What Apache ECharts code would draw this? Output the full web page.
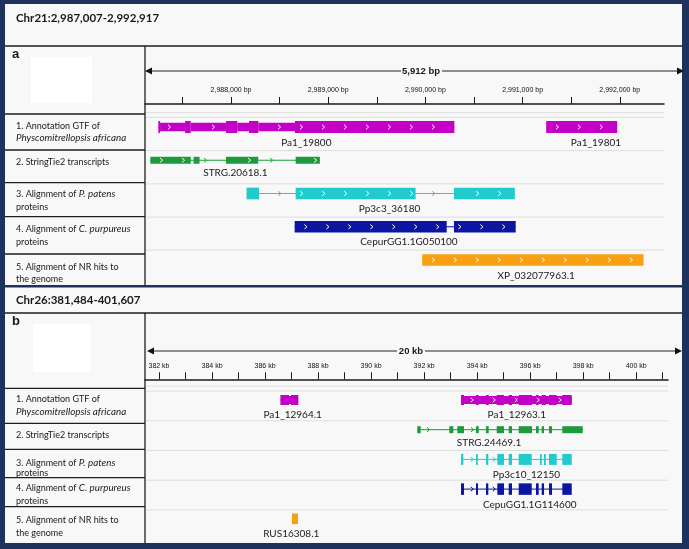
<!DOCTYPE html>
<html><head><meta charset="utf-8">
<script src="https://cdn.jsdelivr.net/npm/echarts@6/dist/echarts.min.js"></script>
<style>html,body{margin:0;padding:0;background:#1d335e}#c{width:689px;height:549px}</style>
</head><body><div id="c"></div>
<script>
// ---------------- DATA ----------------
const titleA = 'Chr21:2,987,007-2,992,917';
const titleB = 'Chr26:381,484-401,607';
const spanLabelA = '5,912 bp';
const spanLabelB = '20 kb';
const trackLabels = [
  ['1. Annotation GTF of', '{i|Physcomitrellopsis africana}'],
  ['2. StringTie2 transcripts'],
  ['3. Alignment of {i|P. patens}', 'proteins'],
  ['4. Alignment of {i|C. purpureus}', 'proteins'],
  ['5. Alignment of NR hits to', 'the genome']
];
const trackColors = ['#c400c8', '#1c9a3c', '#22cbcb', '#0c14a2', '#f7a011'];

// Panel a (Chr21)
const viewA = [2987115, 2992455];
const ticksA = [2987500, 2988000, 2988500, 2989000, 2989500, 2990000, 2990500, 2991000, 2991500, 2992000];
const tickLabelsA = [2988000, 2989000, 2990000, 2991000, 2992000];
const geneNamesA = ['Pa1_19800', 'Pa1_19801', 'STRG.20618.1', 'Pp3c3_36180', 'CepurGG1.1G050100', 'XP_032077963.1'];
const geneTracksA = [0, 0, 1, 2, 3, 4];
const geneLabelAtA = [2988775, 2991755, 2988045, 2989631, 2989831, 2991140];
const geneExonsA = [
  [[2987252,2987270,1],[2987270,2987527,0],[2987527,2987585,1],[2987585,2987949,0],[2987949,2988065,1],[2988065,2988185,0],[2988185,2988281,1],[2988281,2988658,0],[2988658,2990298,1]],
  [[2991243,2991973,1]],
  [[2987170,2987586,1],[2987615,2987676,1],[2987948,2988280,1],[2988665,2988914,1]],
  [[2988160,2988288,1],[2988665,2989899,1],[2990294,2990920,1]],
  [[2988655,2990219,1],[2990294,2990929,1]],
  [[2989967,2992244,1]]
];

// Panel b (Chr26)
const viewB = [381472, 401199];
const ticksB = [382000,383000,384000,385000,386000,387000,388000,389000,390000,391000,392000,393000,394000,395000,396000,397000,398000,399000,400000,401000];
const tickLabelsB = [382000,384000,386000,388000,390000,392000,394000,396000,398000,400000];
const geneNamesB = ['Pa1_12964.1', 'Pa1_12963.1', 'STRG.24469.1', 'Pp3c10_12150', 'CepuGG1.1G114600', 'RUS16308.1'];
const geneTracksB = [0, 0, 1, 2, 3, 4];
const geneLabelAtB = [387043, 395496, 394448, 395858, 395983, 386987];
const geneExonsB = [
  [[386579,386904,1],[386904,386979,0],[386979,387255,1]],
  [[393391,397567,0],[393391,393505,1],[393957,394059,1],[394334,394436,1],[394738,395013,1],[395191,395315,1],[395568,396070,1],[396220,396322,1],[396435,396586,1],[396711,397001,1],[397212,397567,1]],
  [[391743,391871,1],[392950,393101,1],[393252,393505,1],[393957,394059,1],[394334,394436,1],[394738,395013,1],[395191,395315,1],[395568,396070,1],[396220,396322,1],[396435,396522,1],[396711,396824,1],[397212,397982,1]],
  [[393391,393478,1],[393957,394006,1],[394334,394421,1],[394761,395013,1],[395191,395315,1],[395568,396058,1],[396371,396435,1],[396522,396586,1],[396711,397001,1],[397212,397567,1]],
  [[393391,393505,1],[393957,394033,1],[394334,394421,1],[394761,395013,1],[395191,395315,1],[395568,396058,1],[396220,396322,1],[396435,396522,1],[396711,396824,1],[397212,397567,1]],
  [[387017,387243,1]]
];

// ---------------- RENDERING ----------------
const chart = echarts.init(document.getElementById('c'), null, {width: 689, height: 549});
const FONT = 'Lato, "Open Sans", sans-serif';

function geneSeriesData(exons, tracks) {
  return exons.map((ex, i) => {
    let s = Infinity, e = -Infinity;
    ex.forEach(b => { s = Math.min(s, b[0]); e = Math.max(e, b[1]); });
    return [s, e, tracks[i], i];
  });
}

function chevron(x, cy, color) {
  return {type: 'polyline', shape: {points: [[x - 1.3, cy - 2.2], [x + 1.3, cy], [x - 1.3, cy + 2.2]]},
          style: {stroke: color, lineWidth: 1, fill: null}};
}

function makeRender(exonsArr, names, labelAts, tallH, medH) {
  return function (params, api) {
    const gi = api.value(3), track = api.value(2);
    const color = trackColors[track];
    const p0 = api.coord([api.value(0), track]);
    const p1 = api.coord([api.value(1), track]);
    const cy = p0[1], x0 = p0[0], x1 = p1[0];
    const th = tallH[track], mh = medH[track];
    const kids = [];
    kids.push({type: 'line', shape: {x1: x0, y1: cy, x2: x1, y2: cy}, style: {stroke: color, lineWidth: 1}});
    const blocks = exonsArr[gi].map(b => {
      const a = api.coord([b[0], track])[0], c = api.coord([b[1], track])[0];
      return [a, c, b[2]];
    });
    blocks.filter(b => !b[2]).concat(blocks.filter(b => b[2])).forEach(b => {
      const h = b[2] ? th : mh;
      kids.push({type: 'rect', shape: {x: b[0], y: cy - h / 2, width: Math.max(b[1] - b[0], 1.8), height: h}, style: {fill: color}});
    });
    for (let x = x0 + 11; x < x1 - 3; x += 22) {
      const inB = blocks.find(b => x >= b[0] && x <= b[1]);
      if (inB) {
        if (x - 2.5 >= inB[0] && x + 2.5 <= inB[1]) kids.push(chevron(x, cy, '#ffffff'));
      } else {
        const near = blocks.some(b => Math.abs(x - b[0]) < 3 || Math.abs(x - b[1]) < 3);
        if (!near) kids.push(chevron(x, cy, color));
      }
    }
    const lx = api.coord([labelAts[gi], track])[0];
    kids.push({type: 'text', style: {text: names[gi], x: lx, y: cy + th / 2 + 9.5, align: 'center', verticalAlign: 'middle',
      font: '10px ' + FONT, fill: '#1a1a1a'}});
    return {type: 'group', children: kids};
  };
}

function sepRender(params, api) {
  const cs = params.coordSys;
  const y = api.coord([0, api.value(0)])[1];
  return {type: 'line', shape: {x1: cs.x, y1: y, x2: cs.x + cs.width, y2: y}, style: {stroke: '#dedede', lineWidth: 1}};
}

function xAxisDef(grid, view, ticks, labels, fmt, margin) {
  return {
    gridIndex: grid, type: 'value', position: 'top', min: view[0], max: view[1],
    axisLine: {show: true, onZero: false, lineStyle: {color: '#1a1a1a', width: 1.5}},
    axisTick: {show: true, customValues: ticks, length: 7, lineStyle: {color: '#1a1a1a', width: 1}},
    axisLabel: {show: true, customValues: labels, formatter: fmt, margin: margin, fontSize: 7,
      fontFamily: '"Liberation Sans", Arial, sans-serif', color: '#111'},
    splitLine: {show: false}, minorTick: {show: false}
  };
}

// ---- decorations (frame, boxes, text) ----
const g = [];
const LINE = '#1e1e1e';
function rect(x, y, w, h, fill, z) { g.push({type: 'rect', shape: {x, y, width: w, height: h}, style: {fill}, z: z || -10}); }
function hline(x1, x2, y, w) { g.push({type: 'line', shape: {x1, y1: y, x2, y2: y}, style: {stroke: LINE, lineWidth: w || 1.3}, z: 50}); }
function vline(x, y1, y2, w) { g.push({type: 'line', shape: {x1: x, y1, x2: x, y2}, style: {stroke: LINE, lineWidth: w || 1.3}, z: 50}); }
function text(str, x, y, font, extra) {
  g.push({type: 'text', x, y, z: 60, style: Object.assign({text: str, font, fill: '#1a1a1a', verticalAlign: 'middle',
    rich: {i: {font: 'italic 9.8px ' + FONT, fill: '#1a1a1a'}}}, extra || {})});
}
rect(5, 4, 677, 281, '#f8f8f8');
rect(5, 287.5, 677, 255.5, '#f8f8f8');
rect(31, 57, 61, 46, '#ffffff', -9);
rect(33, 324, 57, 48, '#ffffff', -9);
hline(5, 682, 46);
hline(5, 682, 313);
vline(145, 46, 285);
vline(145, 313, 543);
[114, 150, 182.7, 216.7, 254].forEach(y => hline(5, 145, y));
[388.3, 423.3, 449.3, 477.7, 506.7].forEach(y => hline(5, 145, y));
text(titleA, 16, 18.5, 'bold 11.5px ' + FONT);
text(titleB, 16, 300.5, 'bold 11.5px ' + FONT);
text('a', 12, 54, 'bold 13px "Liberation Sans", Arial, sans-serif');
text('b', 12, 321, 'bold 13px "Liberation Sans", Arial, sans-serif');
const rowsA = [[125.7, 138.3], [161.7], [194, 206.7], [229, 241.7], [266.7, 279.3]];
const rowsB = [[399, 411.7], [435], [463.3, 472.7], [487.7, 500.7], [520, 532.7]];
[rowsA, rowsB].forEach(rows => rows.forEach((ys, i) => ys.forEach((y, j) =>
  text(trackLabels[i][j], 16, y, '9px ' + FONT))));
function ruler(y, xl, xr, gap0, gap1, label, lx) {
  g.push({type: 'line', shape: {x1: xl + 5, y1: y, x2: gap0, y2: y}, style: {stroke: '#222', lineWidth: 1.2}, z: 55});
  g.push({type: 'line', shape: {x1: gap1, y1: y, x2: xr - 5, y2: y}, style: {stroke: '#222', lineWidth: 1.2}, z: 55});
  g.push({type: 'polygon', shape: {points: [[xl, y], [xl + 7, y - 3.5], [xl + 7, y + 3.5]]}, style: {fill: '#111'}, z: 55});
  g.push({type: 'polygon', shape: {points: [[xr, y], [xr - 7, y - 3.5], [xr - 7, y + 3.5]]}, style: {fill: '#111'}, z: 55});
  text(label, lx, y, 'bold 9.5px "Liberation Sans Narrow", "Liberation Sans", Arial, sans-serif', {align: 'center'});
}
ruler(71, 145, 684, 401, 442, spanLabelA, 421);
ruler(351, 147, 682, 397, 425, spanLabelB, 411);

const option = {
  animation: false,
  backgroundColor: '#1d335e',
  grid: [
    {left: 145, top: 104, width: 519, height: 181, outerBoundsMode: 'none'},
    {left: 145, top: 379.3, width: 523, height: 163.7, outerBoundsMode: 'none'}
  ],
  xAxis: [
    xAxisDef(0, viewA, ticksA, tickLabelsA, v => Number(v).toLocaleString('en-US') + ' bp', 10),
    xAxisDef(1, viewB, ticksB, tickLabelsB, v => Math.round(v / 1000) + ' kb', 9.5)
  ],
  yAxis: [
    {gridIndex: 0, type: 'value', min: -0.692, max: 4.752, inverse: true, show: false},
    {gridIndex: 1, type: 'value', min: -0.697, max: 4.815, inverse: true, show: false}
  ],
  graphic: g,
  series: [
    {type: 'custom', xAxisIndex: 0, yAxisIndex: 0, renderItem: sepRender, clip: false, silent: true,
      data: [[-0.43], [-0.29], [0.71], [1.71], [2.71], [3.70]]},
    {type: 'custom', xAxisIndex: 1, yAxisIndex: 1, renderItem: sepRender, clip: false, silent: true,
      data: [[-0.47], [-0.30], [0.70], [1.70], [2.70], [3.70]]},
    {type: 'custom', xAxisIndex: 0, yAxisIndex: 0, clip: false,
      renderItem: makeRender(geneExonsA, geneNamesA, geneLabelAtA, [12, 7, 11.7, 11.7, 11.7], [8.5, 7, 8, 8, 8]),
      encode: {x: [0, 1], y: 2}, data: geneSeriesData(geneExonsA, geneTracksA)},
    {type: 'custom', xAxisIndex: 1, yAxisIndex: 1, clip: false,
      renderItem: makeRender(geneExonsB, geneNamesB, geneLabelAtB, [10, 7, 11, 11.5, 10.7], [8, 7, 7, 7, 7]),
      encode: {x: [0, 1], y: 2}, data: geneSeriesData(geneExonsB, geneTracksB)}
  ]
};
chart.setOption(option);
</script>
</body></html>
